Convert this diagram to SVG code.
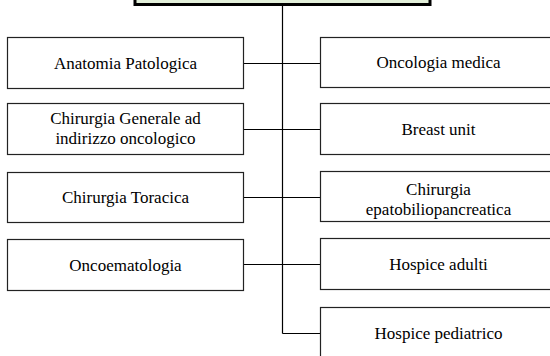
<svg xmlns="http://www.w3.org/2000/svg" width="550" height="356" viewBox="0 0 550 356">
<style>
.box{fill:#fff;stroke:#222;stroke-width:1.2}
.top{fill:#e2efd9;stroke:#000;stroke-width:3}
.c{stroke:#000;stroke-width:1.2;fill:none}
text{font-family:'Liberation Serif';font-size:17px;fill:#000;text-anchor:middle}
</style>
<rect width="550" height="356" fill="#fff"/>
<g id="connectors">
<path class="c" d="M282.5 5V333.5"/>
<path class="c" d="M243.5 63.5H320.5"/>
<path class="c" d="M243.5 129.5H320.5"/>
<path class="c" d="M243.5 197.5H320.5"/>
<path class="c" d="M243.5 264.5H320.5"/>
<path class="c" d="M282.5 333.5H320.5"/>
</g>
<g id="root"><rect class="top" x="135" y="-10" width="295" height="14.5"/></g>
<g id="anatomia"><rect class="box" x="7.5" y="37.5" width="236" height="51"/><text x="125.5" y="69">Anatomia Patologica</text></g>
<g id="chirurgia-generale"><rect class="box" x="7.5" y="103.5" width="236" height="51"/><text x="125.5" y="124">Chirurgia Generale ad</text><text x="125.5" y="144">indirizzo oncologico</text></g>
<g id="chirurgia-toracica"><rect class="box" x="7.5" y="172.5" width="236" height="50"/><text x="125.5" y="203">Chirurgia Toracica</text></g>
<g id="oncoematologia"><rect class="box" x="7.5" y="239.5" width="236" height="51"/><text x="125.5" y="271">Oncoematologia</text></g>
<g id="oncologia-medica"><rect class="box" x="320.5" y="37.5" width="236" height="50"/><text x="438.5" y="68">Oncologia medica</text></g>
<g id="breast-unit"><rect class="box" x="320.5" y="103.5" width="236" height="51"/><text x="438.5" y="135">Breast unit</text></g>
<g id="chirurgia-epato"><rect class="box" x="320.5" y="171.5" width="236" height="50"/><text x="438.5" y="195">Chirurgia</text><text x="438.5" y="215">epatobiliopancreatica</text></g>
<g id="hospice-adulti"><rect class="box" x="320.5" y="238.5" width="236" height="51"/><text x="438.5" y="270">Hospice adulti</text></g>
<g id="hospice-pediatrico"><rect class="box" x="320.5" y="307.5" width="236" height="60"/><text x="438.5" y="339">Hospice pediatrico</text></g>
</svg>
